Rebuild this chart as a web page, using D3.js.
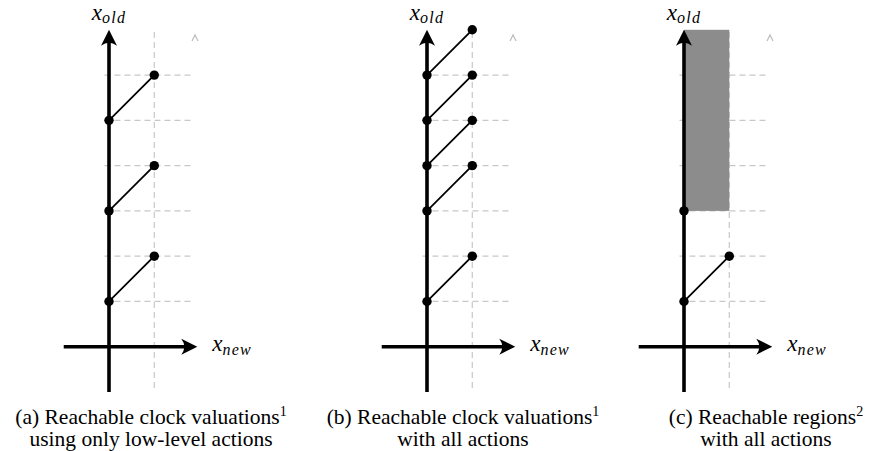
<!DOCTYPE html>
<html>
<head>
<meta charset="utf-8">
<script src="https://cdn.jsdelivr.net/npm/d3@7"></script>
<style>
  html, body { margin: 0; padding: 0; background: #fff; }
  svg { display: block; }
  .cap { font-family: "Liberation Serif", "Times New Roman", serif; fill: #000; }
  .math { font-family: "Liberation Serif", "Times New Roman", serif; font-style: italic; fill: #000; }
</style>
</head>
<body>
<svg id="chart" width="871" height="451"></svg>
<script>
// ---- data ----
const panelIds = ["a", "b", "c"];
const gridLevels = [1, 2, 3, 4, 5, 6];            // dashed horizontal grid (x_old values)
const segmentsA = [[0, 1, 1, 2], [0, 3, 1, 4], [0, 5, 1, 6]];
const segmentsB = [[0, 1, 1, 2], [0, 3, 1, 4], [0, 4, 1, 5], [0, 5, 1, 6], [0, 6, 1, 7]];
const segmentsC = [[0, 1, 1, 2]];
const pointsC = [[0, 3]];
const regionC = [[0, 3, 1, 7]];                     // x0, y0, x1, y1
const captionLine1 = ["(a) Reachable clock valuations", "(b) Reachable clock valuations", "(c) Reachable regions"];
const captionSup = ["1", "1", "2"];
const captionLine2 = ["using only low-level actions", "with all actions", "with all actions"];

// ---- layout ----
const originX = [109, 427, 684];
const captionCX = [151, 463, 766];
const unit = 45.28;
const yTop = 29.8, yBottom = 392;

const svg = d3.select("#chart");

const panels = [
  { segs: segmentsA, pts: [], region: [] },
  { segs: segmentsB, pts: [], region: [] },
  { segs: segmentsC, pts: pointsC, region: regionC }
];

panels.forEach((p, i) => {
  const ox = originX[i];
  const x = d3.scaleLinear().domain([-1, 2]).range([ox - unit, ox + 2 * unit]);
  const y = d3.scaleLinear().domain([-1, 7]).range([yBottom, yTop]);
  const g = svg.append("g");

  // dashed grid
  const grid = g.append("g").attr("stroke", "#c8c8c8").attr("stroke-width", 1.2)
    .attr("stroke-dasharray", "6,4").attr("fill", "none");
  grid.selectAll("line.h").data(gridLevels).join("line").attr("class", "h")
    .attr("x1", x(-0.1)).attr("x2", x(1.85))
    .attr("y1", d => y(d)).attr("y2", d => y(d));
  grid.append("line")
    .attr("x1", x(1)).attr("x2", x(1))
    .attr("y1", y(6.95)).attr("y2", y(-1));
  // small grey arrow tip
  g.append("path")
    .attr("d", `M${x(1.9) - 3},${y(6.82) + 3} L${x(1.9)},${y(6.82) - 3} L${x(1.9) + 3},${y(6.82) + 3}`)
    .attr("fill", "none").attr("stroke", "#bdbdbd").attr("stroke-width", 1.2);

  // regions
  g.selectAll("rect.reg").data(p.region).join("rect").attr("class", "reg")
    .attr("x", d => x(d[0])).attr("y", d => y(d[3]))
    .attr("width", d => x(d[2]) - x(d[0])).attr("height", d => y(d[1]) - y(d[3]))
    .attr("fill", "#8c8c8c");

  // axes
  const ax = g.append("g").attr("stroke", "#000").attr("stroke-width", 3.6);
  ax.append("line").attr("x1", x(0)).attr("x2", x(0)).attr("y1", y(-1)).attr("y2", y(7) + 8);
  ax.append("line").attr("x1", x(-1)).attr("x2", x(1.95) - 8).attr("y1", y(0)).attr("y2", y(0));
  // arrow heads (stealth-like)
  const tipY = y(7), tipX = x(1.95);
  g.append("path")
    .attr("d", `M${x(0)},${tipY} L${x(0) + 8},${tipY + 16} Q${x(0)},${tipY + 10} ${x(0) - 8},${tipY + 16} Z`)
    .attr("fill", "#000");
  g.append("path")
    .attr("d", `M${tipX},${y(0)} L${tipX - 16},${y(0) - 8} Q${tipX - 10},${y(0)} ${tipX - 16},${y(0) + 8} Z`)
    .attr("fill", "#000");

  // segments
  g.selectAll("line.seg").data(p.segs).join("line").attr("class", "seg")
    .attr("x1", d => x(d[0])).attr("y1", d => y(d[1]))
    .attr("x2", d => x(d[2])).attr("y2", d => y(d[3]))
    .attr("stroke", "#000").attr("stroke-width", 1.8);

  // points
  const pts = [];
  p.segs.forEach(s => { pts.push([s[0], s[1]]); pts.push([s[2], s[3]]); });
  p.pts.forEach(q => pts.push(q));
  g.selectAll("circle").data(pts).join("circle")
    .attr("cx", d => x(d[0])).attr("cy", d => y(d[1])).attr("r", 4.7).attr("fill", "#000");

  // axis labels
  const lo = g.append("text").attr("class", "math")
    .attr("x", x(0)).attr("y", 20).attr("text-anchor", "middle").attr("font-size", 23);
  lo.append("tspan").text("x");
  lo.append("tspan").attr("font-size", 16).attr("dy", 3).attr("letter-spacing", 1.2).text("old");
  const ln = g.append("text").attr("class", "math")
    .attr("x", x(1.95) + 15).attr("y", y(0) + 4).attr("font-size", 23);
  ln.append("tspan").text("x");
  ln.append("tspan").attr("font-size", 16).attr("dy", 4).attr("letter-spacing", 1.2).text("new");

  // caption
  const c1 = g.append("text").attr("class", "cap").attr("x", captionCX[i]).attr("y", 424)
    .attr("text-anchor", "middle").attr("font-size", 21.5);
  c1.append("tspan").text(captionLine1[i]);
  c1.append("tspan").attr("font-size", 14).attr("dy", -8).text(captionSup[i]);
  g.append("text").attr("class", "cap").attr("x", captionCX[i]).attr("y", 446)
    .attr("text-anchor", "middle").attr("font-size", 21.5).text(captionLine2[i]);
});
</script>
</body>
</html>
